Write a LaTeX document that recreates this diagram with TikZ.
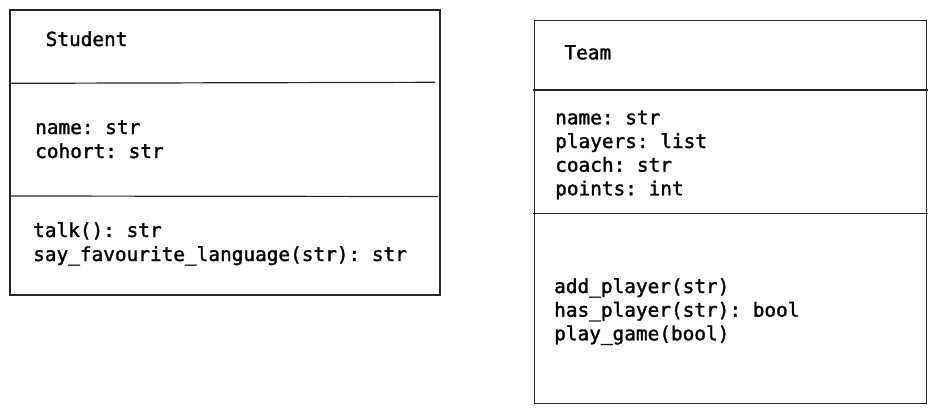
\documentclass[tikz,border=0pt]{standalone}
\usepackage{fontspec}
\setmonofont{DejaVu Sans Mono}[FakeBold=1.6]
\begin{document}
\begin{tikzpicture}[x=1pt,y=-1pt,
  boxline/.style={draw=black!85,line width=1.2pt},
  txt/.style={anchor=base west,inner sep=0pt,font=\fontsize{19.4}{24}\ttfamily}]
\useasboundingbox (0,0) rectangle (938,413);
% Student
\draw[boxline] (10,10) rectangle (440,295);
\coordinate (s1l) at (10,83.3); \coordinate (s1r) at (435,82.3);
\coordinate (s2l) at (10,196); \coordinate (s2r) at (438,196.5);
\draw[boxline] (s1l) -- (s1r);
\draw[boxline] (s2l) -- (s2r);
\node[txt] (sname) at (45.5,46) {Student};
\node[txt] (sa1) at (35,134) {name: str};
\node[txt] (sa2) at (35,158) {cohort: str};
\node[txt] (sm1) at (33,237) {talk(): str};
\node[txt] (sm2) at (33,261) {say\_favourite\_language(str): str};
% Team
\draw[boxline] (534.3,20.7) rectangle (926.7,403.3);
\coordinate (t1l) at (532.7,90); \coordinate (t1r) at (928.3,90);
\coordinate (t2l) at (533,213.3); \coordinate (t2r) at (928.3,213.3);
\draw[boxline] (t1l) -- (t1r);
\draw[boxline] (t2l) -- (t2r);
\node[txt] (tname) at (564.3,59.3) {Team};
\node[txt] (ta1) at (555,124.3) {name: str};
\node[txt] (ta2) at (555,148) {players: list};
\node[txt] (ta3) at (555,171.7) {coach: str};
\node[txt] (ta4) at (555,195.3) {points: int};
\node[txt] (tm1) at (554,293) {add\_player(str)};
\node[txt] (tm2) at (554,316.7) {has\_player(str): bool};
\node[txt] (tm3) at (554,340.3) {play\_game(bool)};
\end{tikzpicture}
\end{document}
